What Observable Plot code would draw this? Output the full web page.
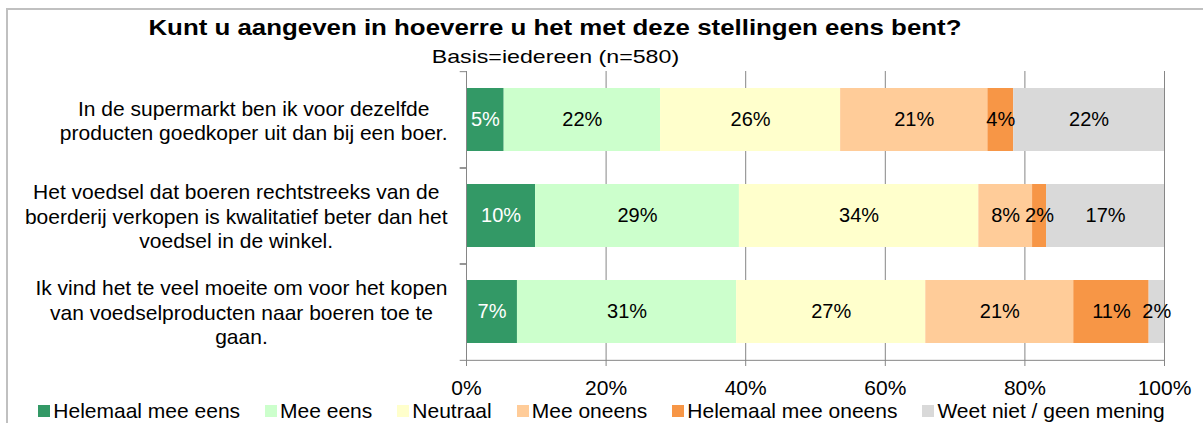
<!DOCTYPE html>
<html>
<head>
<meta charset="utf-8">
<script src="https://cdn.jsdelivr.net/npm/d3@7"></script>
<script src="https://cdn.jsdelivr.net/npm/@observablehq/plot@0.6"></script>
<style>
  body { margin: 0; background: #fff; font-family: "Liberation Sans", Arial, sans-serif; color: #000; }
  #wrap { position: relative; width: 1203px; height: 423px; overflow: hidden; }
  #frame { position: absolute; left: 6px; top: 8px; width: 1400px; height: 600px; border-left: 2px solid #c0c0c0; border-top: 2px solid #c0c0c0; box-sizing: border-box; pointer-events: none; }
  #head { position: relative; height: 66px; }
  .hline { position: absolute; left: 0; width: 1110px; text-align: center; white-space: nowrap; }
  .hline span { display: inline-block; }
  #title { top: 15px; line-height: 26px; font-size: 22px; font-weight: bold; }
  #title span { transform: scaleX(1.175); }
  #subtitle { top: 46px; line-height: 22px; font-size: 19px; }
  #subtitle span { transform: scaleX(1.22); }
  #chart svg { display: block; overflow: visible; }
  #legend { display: flex; justify-content: center; align-items: center; gap: 25px; height: 25px; font-size: 21px; line-height: 21px; white-space: nowrap; }
  #legend .item { display: flex; align-items: center; gap: 3px; }
  #legend .sw { width: 12px; height: 12px; display: inline-block; }
</style>
</head>
<body>
<div id="wrap">
  <div id="head">
    <div class="hline" id="title"><span>Kunt u aangeven in hoeverre u het met deze stellingen eens bent?</span></div>
    <div class="hline" id="subtitle"><span>Basis=iedereen (n=580)</span></div>
  </div>
  <div id="chart"></div>
  <div id="legend"></div>
  <div id="frame"></div>
</div>
<script>
// ---- Data ----
const categories = [
  "In de supermarkt ben ik voor dezelfde\nproducten goedkoper uit dan bij een boer.",
  "Het voedsel dat boeren rechtstreeks van de\nboerderij verkopen is kwalitatief beter dan het\nvoedsel in de winkel.",
  "Ik vind het te veel moeite om voor het kopen\nvan voedselproducten naar boeren toe te\ngaan."
];
const seriesNames = ["Helemaal mee eens", "Mee eens", "Neutraal", "Mee oneens", "Helemaal mee oneens", "Weet niet / geen mening"];
const seriesColors = ["#339966", "#ccffcc", "#ffffcc", "#ffcc99", "#f79646", "#d9d9d9"];
const helemaalMeeEens   = [5.4, 9.9, 7.3];
const meeEens           = [22.4, 29.2, 31.4];
const neutraal          = [25.8, 34.3, 27.1];
const meeOneens         = [21.1, 7.7, 21.2];
const helemaalMeeOneens = [3.7, 2.0, 10.8];
const weetNiet          = [21.6, 16.9, 2.2];
const xTicks = [0, 20, 40, 60, 80, 100];

const seriesValues = [helemaalMeeEens, meeEens, neutraal, meeOneens, helemaalMeeOneens, weetNiet];
const rows = [];
categories.forEach((c, i) => seriesNames.forEach((s, j) => rows.push({category: c, series: s, value: seriesValues[j][i]})));

const gray = "#868686";
const W = 1203, H = 332, mTop = 5, mBottom = 37, mLeft = 466, mRight = 39;
const step = (H - mTop - mBottom) / categories.length;

const stackOpts = {x: "value", y: "category", z: "series", order: seriesNames};
const isDark = d => d.series === seriesNames[0];
const label = d => Math.round(d.value) + "%";

const chart = Plot.plot({
  width: W, height: H,
  marginTop: mTop, marginBottom: mBottom, marginLeft: mLeft, marginRight: mRight,
  style: {fontFamily: "'Liberation Sans', Arial, sans-serif", fontSize: "21px", color: "#000", background: "#fff", overflow: "visible"},
  x: {domain: [0, 100]},
  y: {domain: categories, paddingInner: 0.34, paddingOuter: 0.17},
  color: {domain: seriesNames, range: seriesColors},
  marks: [
    Plot.ruleX(xTicks.slice(1), {stroke: gray, strokeWidth: 1}),
    Plot.barX(rows, Plot.stackX({...stackOpts, fill: "series"})),
    Plot.text(rows, Plot.stackX({...stackOpts, text: d => isDark(d) ? label(d) : null, fill: "white", fontSize: 20})),
    Plot.text(rows, Plot.stackX({...stackOpts, text: d => isDark(d) ? null : label(d), fill: "black", fontSize: 20})),
    Plot.ruleX([0], {stroke: gray, strokeWidth: 1}),
    Plot.ruleY(categories, {y: d => d, x1: -0.9, x2: 0, dy: -step / 2, stroke: gray}),
    Plot.ruleY(categories.slice(-1), {y: d => d, x1: -0.9, x2: 100, dy: step / 2, stroke: gray}),
    Plot.ruleY(categories.slice(0, -1), {y: d => d, x1: -0.9, x2: 0, dy: step / 2, stroke: gray}),
    Plot.axisX({ticks: xTicks, tickFormat: d => d + "%", tickSize: 5, tickPadding: 14, stroke: gray, fontSize: 21, label: null}),
    Plot.axisY({tickSize: 0, tickPadding: 19, fontSize: 21, lineHeight: 1.17, label: null})
  ]
});
document.getElementById("chart").appendChild(chart);

// center each multi-line category label as a block, right edge aligned to the axis
chart.querySelectorAll('[aria-label="y-axis tick label"] text').forEach(t => {
  const spans = t.querySelectorAll("tspan");
  if (!spans.length) return;
  let maxW = 0;
  spans.forEach(s => { maxW = Math.max(maxW, s.getComputedTextLength()); });
  spans.forEach(s => { s.setAttribute("text-anchor", "middle"); s.setAttribute("x", -maxW / 2); });
});

// legend
const legend = document.getElementById("legend");
seriesNames.forEach((s, i) => {
  const item = document.createElement("div");
  item.className = "item";
  const sw = document.createElement("span");
  sw.className = "sw";
  sw.style.background = seriesColors[i];
  const tx = document.createElement("span");
  tx.textContent = s;
  item.appendChild(sw); item.appendChild(tx);
  legend.appendChild(item);
});
</script>
</body>
</html>
